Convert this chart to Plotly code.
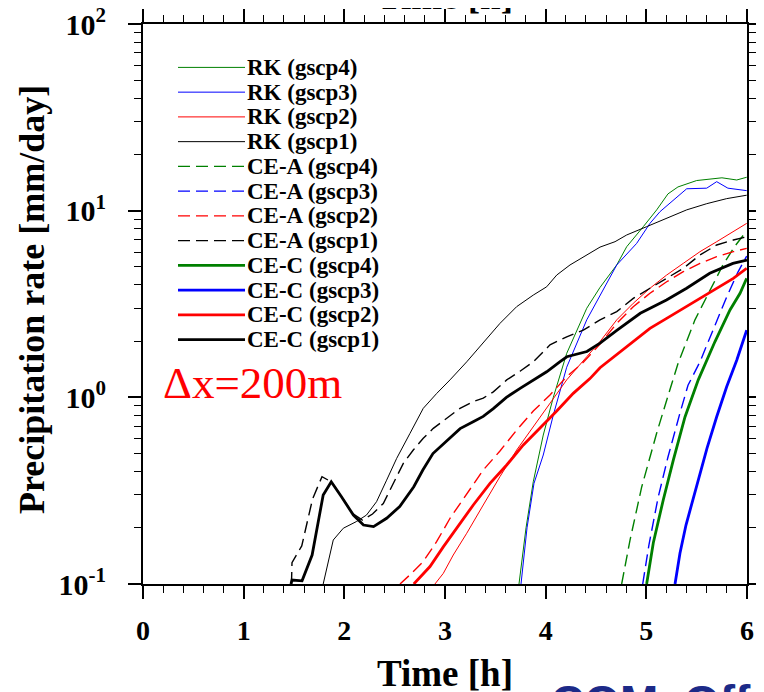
import plotly.graph_objects as go

# ---------------- data (time [h], precipitation rate [mm/day]) ----------------
t_rk4 = [3.735, 3.805, 3.877, 3.976, 4.076, 4.209, 4.408, 4.54, 4.706, 4.805, 4.97, 5.103, 5.215, 5.314, 5.50, 5.751, 5.898, 5.997]
v_rk4 = [0.10, 0.20, 0.353, 0.628, 1.0, 1.72, 3.0, 3.88, 5.12, 6.41, 8.21, 10.1, 12.3, 13.4, 14.5, 15.0, 14.6, 15.1]

t_rk3 = [3.755, 3.815, 3.884, 3.976, 4.076, 4.209, 4.408, 4.54, 4.706, 4.904, 5.036, 5.136, 5.268, 5.401, 5.6, 5.699, 5.81, 5.997]
v_rk3 = [0.10, 0.20, 0.346, 0.491, 0.804, 1.45, 2.60, 3.49, 5.12, 6.68, 8.55, 9.88, 11.4, 13.1, 13.2, 14.3, 13.2, 12.8]

t_rk2 = [2.90, 2.983, 3.082, 3.216, 3.38, 3.546, 3.712, 3.877, 4.043, 4.209, 4.408, 4.54, 4.706, 4.87, 5.036, 5.202, 5.367, 5.533, 5.699, 5.864, 5.997]
v_rk2 = [0.10, 0.114, 0.143, 0.187, 0.265, 0.376, 0.522, 0.697, 0.92, 1.24, 1.65, 1.99, 2.60, 3.19, 3.84, 4.52, 5.22, 6.03, 6.82, 7.71, 8.55]

t_rk1 = [1.79, 1.89, 1.99, 2.12, 2.22, 2.32, 2.42, 2.52, 2.652, 2.784, 2.918, 3.05, 3.216, 3.38, 3.546, 3.712, 3.877, 4.01, 4.11, 4.242, 4.374, 4.54, 4.689, 4.805, 5.003, 5.202, 5.401, 5.6, 5.798, 5.997]
v_rk1 = [0.10, 0.172, 0.199, 0.216, 0.234, 0.276, 0.36, 0.471, 0.641, 0.873, 1.05, 1.24, 1.55, 1.95, 2.49, 3.06, 3.53, 3.91, 4.52, 5.12, 5.67, 6.38, 6.82, 7.41, 8.21, 9.10, 10.1, 10.9, 11.6, 12.1]

t_cea4 = [4.755, 4.838, 4.954, 5.103, 5.218, 5.317, 5.483, 5.632, 5.761, 5.881, 5.997]
v_cea4 = [0.10, 0.172, 0.331, 0.644, 1.03, 1.53, 2.60, 3.76, 5.12, 6.47, 7.80]

t_cea3 = [4.964, 5.026, 5.116, 5.215, 5.334, 5.414, 5.533, 5.665, 5.798, 5.910, 5.997]
v_cea3 = [0.10, 0.162, 0.289, 0.479, 0.824, 1.16, 1.55, 2.29, 3.45, 4.69, 5.71]

t_cea2 = [2.553, 2.652, 2.784, 2.918, 3.05, 3.216, 3.38, 3.546, 3.712, 3.877, 4.043, 4.209, 4.374, 4.54, 4.706, 4.87, 5.036, 5.202, 5.367, 5.533, 5.699, 5.864, 5.997]
v_cea2 = [0.10, 0.112, 0.132, 0.169, 0.225, 0.306, 0.408, 0.516, 0.668, 0.845, 1.03, 1.29, 1.54, 1.93, 2.49, 3.06, 3.61, 4.16, 4.71, 5.22, 5.67, 6.03, 6.28]

t_cea1 = [1.475, 1.48, 1.577, 1.684, 1.778, 1.872, 1.982, 2.081, 2.18, 2.28, 2.387, 2.486, 2.586, 2.685, 2.784, 2.884, 3.017, 3.149, 3.281, 3.38, 3.48, 3.613, 3.745, 3.877, 4.043, 4.209, 4.374, 4.54, 4.706, 4.87, 5.036, 5.202, 5.367, 5.533, 5.699, 5.864, 5.997]
v_cea1 = [0.10, 0.130, 0.16, 0.285, 0.376, 0.352, 0.289, 0.239, 0.22, 0.237, 0.27, 0.346, 0.443, 0.522, 0.604, 0.682, 0.773, 0.873, 0.948, 0.99, 1.07, 1.24, 1.38, 1.55, 1.91, 2.11, 2.29, 2.60, 2.88, 3.39, 3.84, 4.34, 4.91, 5.79, 6.55, 6.96, 7.25]

t_cec4 = [5.003, 5.069, 5.168, 5.268, 5.384, 5.516, 5.682, 5.831, 5.931, 5.997]
v_cec4 = [0.10, 0.166, 0.282, 0.461, 0.785, 1.24, 1.99, 2.94, 3.61, 4.34]

t_cec3 = [5.285, 5.334, 5.394, 5.513, 5.603, 5.699, 5.798, 5.898, 5.997]
v_cec3 = [0.10, 0.146, 0.207, 0.36, 0.535, 0.787, 1.14, 1.58, 2.29]

t_cec2 = [2.69, 2.851, 2.983, 3.116, 3.281, 3.447, 3.613, 3.778, 3.944, 4.11, 4.274, 4.44, 4.54, 4.706, 4.87, 5.036, 5.202, 5.367, 5.533, 5.699, 5.864, 5.997]
v_cec2 = [0.10, 0.124, 0.158, 0.199, 0.265, 0.346, 0.434, 0.556, 0.682, 0.845, 1.05, 1.26, 1.44, 1.69, 1.99, 2.34, 2.65, 3.0, 3.39, 3.84, 4.34, 4.91]

t_cec1 = [1.47, 1.48, 1.58, 1.68, 1.79, 1.87, 1.97, 2.09, 2.19, 2.29, 2.42, 2.55, 2.69, 2.78, 2.88, 3.02, 3.15, 3.28, 3.38, 3.48, 3.61, 3.75, 3.88, 4.01, 4.14, 4.21, 4.41, 4.54, 4.71, 4.94, 5.20, 5.40, 5.63, 5.86, 6.0]
v_cec1 = [0.10, 0.105, 0.104, 0.143, 0.30, 0.353, 0.294, 0.234, 0.207, 0.203, 0.225, 0.26, 0.332, 0.408, 0.50, 0.59, 0.68, 0.74, 0.79, 0.87, 1.0, 1.12, 1.24, 1.37, 1.55, 1.65, 1.76, 1.95, 2.29, 2.82, 3.32, 3.84, 4.62, 5.22, 5.44]

labels = ["RK (gscp4)", "RK (gscp3)", "RK (gscp2)", "RK (gscp1)",
          "CE-A (gscp4)", "CE-A (gscp3)", "CE-A (gscp2)", "CE-A (gscp1)",
          "CE-C (gscp4)", "CE-C (gscp3)", "CE-C (gscp2)", "CE-C (gscp1)"]
times = [t_rk4, t_rk3, t_rk2, t_rk1, t_cea4, t_cea3, t_cea2, t_cea1, t_cec4, t_cec3, t_cec2, t_cec1]
values = [v_rk4, v_rk3, v_rk2, v_rk1, v_cea4, v_cea3, v_cea2, v_cea1, v_cec4, v_cec3, v_cec2, v_cec1]

x_ticks = [0, 1, 2, 3, 4, 5, 6]
y_ticks = [0.1, 1, 10, 100]
y_ticktext = ["10<sup>-1</sup>", "10<sup>0</sup>", "10<sup>1</sup>", "10<sup>2</sup>"]

# ---------------- styles ----------------
GREEN, BLUE, RED, BLACK = "#008000", "#0000ff", "#ff0000", "#000000"
colors = [GREEN, BLUE, RED, BLACK] * 3
dashes = ["solid"] * 4 + ["12px,6px"] * 4 + ["solid"] * 4
widths = [1.0] * 4 + [1.4] * 4 + [2.8] * 4
SERIF = "Liberation Serif, Times New Roman, serif"

fig = go.Figure()
for lab, t, v, c, d, w in zip(labels, times, values, colors, dashes, widths):
    fig.add_trace(go.Scatter(x=t, y=v, mode="lines", name=lab, showlegend=False,
                             line=dict(color=c, dash=d, width=w)))

# page body has an 8px margin: figure origin sits at (8, 8) of the screenshot
OFF = 8
W, H = 764 - OFF, 692 - OFF
# plot area in screenshot pixels: x 143..747, y 24..584
PL, PW, PT, PH = 143, 604, 24, 560
def px(xp): return (xp - PL) / PW
def py(yp): return (PT + PH - yp) / PH

row0, drow = 67.4, 24.75
for i, (lab, c, d, w) in enumerate(zip(labels, colors, dashes, widths)):
    yy = py(row0 + i * drow)
    fig.add_shape(type="line", xref="paper", yref="paper", x0=px(178), x1=px(245),
                  y0=yy, y1=yy, line=dict(color=c, dash=d, width=w))
    fig.add_annotation(xref="paper", yref="paper", x=px(245), y=yy, xanchor="left",
                       yanchor="middle", showarrow=False, text="<b>%s</b>" % lab,
                       font=dict(family=SERIF, size=23, color="black"))

# texts
fig.add_annotation(xref="paper", yref="paper", x=px(161), y=py(383), xanchor="left",
                   yanchor="middle", showarrow=False, text="\u0394x=200m",
                   font=dict(family=SERIF, size=45, color="red"))
fig.add_annotation(xref="paper", yref="paper", x=0.5, y=py(673), xanchor="center",
                   yanchor="middle", showarrow=False, text="<b>Time [h]</b>",
                   font=dict(family=SERIF, size=37, color="black"))
fig.add_annotation(xref="paper", yref="paper", x=0.5, y=py(-3), xanchor="center",
                   yanchor="middle", showarrow=False, text="<b>Time [h]</b>",
                   font=dict(family=SERIF, size=37, color="black"))
fig.add_annotation(xref="paper", yref="paper", x=px(32), y=py(300), xanchor="center",
                   yanchor="middle", showarrow=False, textangle=-90,
                   text="<b>Precipitation rate [mm/day]</b>",
                   font=dict(family=SERIF, size=36, color="black"))
fig.add_annotation(xref="paper", yref="paper", x=px(549), y=py(674), xanchor="left",
                   yanchor="top", showarrow=False, text="<b>COM  Off</b>",
                   font=dict(family="Liberation Sans, Arial, sans-serif", size=46, color="#1c2a88"))

minor_y = [m * 10 ** e for e in (-1, 0, 1) for m in range(2, 10)]

fig.update_xaxes(range=[0, 6], tickvals=x_ticks, ticktext=[str(x) for x in x_ticks],
                 showline=True, linecolor="black", linewidth=2, mirror="ticks",
                 ticks="outside", ticklen=13, tickwidth=1.6, tickcolor="black",
                 minor=dict(dtick=0.2, tick0=0, ticks="outside", ticklen=7, tickwidth=1.3, tickcolor="black"),
                 showgrid=False, zeroline=False, ticklabelstandoff=7, automargin=False,
                 ticklabeloverflow="allow",
                 tickfont=dict(family=SERIF, size=28, color="black", weight="bold"))
fig.update_yaxes(type="log", range=[-1, 2], tickvals=y_ticks, ticktext=y_ticktext,
                 showline=True, linecolor="black", linewidth=2, mirror="ticks",
                 ticks="outside", ticklen=13, tickwidth=1.6, tickcolor="black",
                 minor=dict(tickvals=minor_y, ticks="outside", ticklen=7, tickwidth=1.3, tickcolor="black"),
                 showgrid=False, zeroline=False, ticklabelstandoff=16, automargin=False,
                 ticklabeloverflow="allow",
                 tickfont=dict(family=SERIF, size=30, color="black", weight="bold"))

fig.update_layout(width=W, height=H,
                  margin=dict(l=PL - OFF, r=W - (PL - OFF) - PW, t=PT - OFF, b=H - (PT - OFF) - PH),
                  paper_bgcolor="white", plot_bgcolor="white", showlegend=False)

fig.write_html("out.html")
